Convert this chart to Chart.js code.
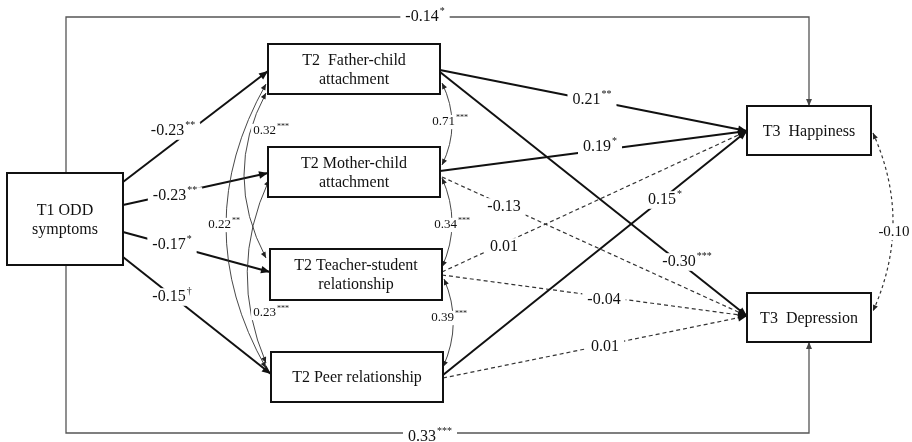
<!DOCTYPE html>
<html><head><meta charset="utf-8">
<script src="https://cdn.jsdelivr.net/npm/chart.js@4"></script>
<style>html,body{margin:0;padding:0;background:#fff}#wrap{width:912px;height:442px;position:relative}</style>
</head><body><div id="wrap"><canvas id="c"></canvas></div>
<script>
// ---------- data ----------
const nodeNames = [["T1 ODD","symptoms"],["T2  Father-child","attachment"],["T2 Mother-child","attachment"],["T2 Teacher-student","relationship"],["T2 Peer relationship"],["T3  Happiness"],["T3  Depression"]];
const pathFrom = [0,0,0,0,0,0,1,2,4,3,1,2,3,4];
const pathTo   = [5,6,1,2,3,4,5,5,5,5,6,6,6,6];
const pathCoef = [-0.14,0.33,-0.23,-0.23,-0.17,-0.15,0.21,0.19,0.15,0.01,-0.30,-0.13,-0.04,0.01];
const pathSig  = ["*","***","**","**","*","\u2020","**","*","*","","***","","",""];
const corrA    = [1,2,3,1,1,2,5];
const corrB    = [2,3,4,3,4,4,6];
const corrCoef = [0.71,0.34,0.39,0.32,0.22,0.23,-0.10];
const corrSig  = ["***","***","***","***","**","***",""];

// ---------- layout (diagram geometry, in axis units) ----------
const boxLayout = [[7,173,123,265],[268,44,440,94],[268,147,440,197],[270,249,442,300],[271,352,443,402],[747,106,871,155],[747,293,871,342]];
const pathLayout = [
  {pts:[[66,173],[66,17],[809,17],[809,106]], lab:[425,17]},
  {pts:[[66,265],[66,433],[809,433],[809,342]], lab:[430,437]},
  {pts:[[123,182],[268,71]], lab:[173,131]},
  {pts:[[123,205],[268,173]], lab:[175,196]},
  {pts:[[123,232],[270,272]], lab:[172,245]},
  {pts:[[123,257],[271,374]], lab:[172,297]},
  {pts:[[440,70],[747,131]], lab:[592,100]},
  {pts:[[440,171],[747,131]], lab:[600,147]},
  {pts:[[443,375],[747,131]], lab:[665,200]},
  {pts:[[442,272],[747,131]], lab:[504,247]},
  {pts:[[440,72],[747,316]], lab:[687,262]},
  {pts:[[442,177],[747,316]], lab:[504,207]},
  {pts:[[442,275],[747,316]], lab:[604,300]},
  {pts:[[443,378],[747,316]], lab:[605,347]}
];
const corrLayout = [
  {p0:[442,83], c:[462,124], p1:[442,165], lab:[450,122]},
  {p0:[442,178],c:[462,223], p1:[442,267], lab:[452,225]},
  {p0:[444,279],c:[463,323], p1:[443,367], lab:[449,318]},
  {p0:[266,93], c:[222,175], p1:[266,258], lab:[271,131]},
  {p0:[266,84], c:[186,226], p1:[266,368], lab:[224,225]},
  {p0:[269,180],c:[227,271], p1:[266,363], lab:[271,313]},
  {p0:[873,133],c:[913,222], p1:[873,311], lab:[894,232]}
];

const FONT = "'Liberation Serif','Times New Roman',serif";
const fmt = v => v.toFixed(2);

function pathStyle(i){
  if (i < 2) return {color:'#555', width:1.3, dash:[]};
  if (pathSig[i] === '') return {color:'#333', width:1.2, dash:[4,3]};
  return {color:'#111', width:2, dash:[]};
}

const datasets = pathLayout.map((p,i) => {
  const s = pathStyle(i);
  return {
    label: nodeNames[pathFrom[i]][0] + ' -> ' + nodeNames[pathTo[i]][0],
    data: p.pts.map(q => ({x:q[0], y:q[1]})),
    showLine: true, borderColor: s.color, borderWidth: s.width, borderDash: s.dash,
    pointRadius: 0, tension: 0, fill: false
  };
});

function arrowHead(ctx, from, to, color, len, hw){
  const dx = to[0]-from[0], dy = to[1]-from[1];
  const L = Math.hypot(dx,dy); const ux = dx/L, uy = dy/L;
  ctx.save(); ctx.setLineDash([]); ctx.fillStyle = color;
  ctx.beginPath();
  ctx.moveTo(to[0], to[1]);
  ctx.lineTo(to[0]-ux*len - uy*hw, to[1]-uy*len + ux*hw);
  ctx.lineTo(to[0]-ux*len + uy*hw, to[1]-uy*len - ux*hw);
  ctx.closePath(); ctx.fill(); ctx.restore();
}

function drawLabel(ctx, base, sup, x, y, size, supSize, padX){
  ctx.save();
  ctx.font = size + 'px ' + FONT;
  const wb = ctx.measureText(base).width;
  ctx.font = supSize + 'px ' + FONT;
  const ws = sup ? ctx.measureText(sup).width + 1 : 0;
  const w = wb + ws;
  const x0 = x - w/2;
  ctx.fillStyle = '#fff';
  ctx.fillRect(x0 - padX, y - size*0.55, w + 2*padX, size*1.1);
  ctx.fillStyle = '#111';
  ctx.textBaseline = 'middle'; ctx.textAlign = 'left';
  ctx.font = size + 'px ' + FONT;
  ctx.fillText(base, x0, y);
  if (sup){
    ctx.font = supSize + 'px ' + FONT;
    ctx.fillText(sup, x0 + wb + 1, y - size*0.33);
  }
  ctx.restore();
}

const diagramPlugin = {
  id: 'diagram',
  afterDatasetsDraw(chart){
    const ctx = chart.ctx, xs = chart.scales.x, ys = chart.scales.y;
    const P = q => [xs.getPixelForValue(q[0]), ys.getPixelForValue(q[1])];
    pathLayout.forEach((p,i) => {
      const n = p.pts.length;
      arrowHead(ctx, P(p.pts[n-2]), P(p.pts[n-1]), i<2 ? '#444' : '#111', i<2 ? 7 : 9, i<2 ? 3 : 3.8);
    });
    corrLayout.forEach((c,i) => {
      const p0 = P(c.p0), cc = P(c.c), p1 = P(c.p1);
      const dashed = corrSig[i] === '';
      ctx.save();
      ctx.strokeStyle = dashed ? '#333' : '#333';
      ctx.lineWidth = dashed ? 1.2 : 0.9;
      ctx.setLineDash(dashed ? [3,3] : []);
      ctx.beginPath(); ctx.moveTo(p0[0],p0[1]); ctx.quadraticCurveTo(cc[0],cc[1],p1[0],p1[1]); ctx.stroke();
      ctx.restore();
      arrowHead(ctx, cc, p0, '#222', 6, 2.6);
      arrowHead(ctx, cc, p1, '#222', 6, 2.6);
    });
    boxLayout.forEach((b,i) => {
      const a = P([b[0],b[1]]), z = P([b[2],b[3]]);
      ctx.save();
      ctx.fillStyle = '#fff'; ctx.fillRect(a[0],a[1],z[0]-a[0],z[1]-a[1]);
      ctx.strokeStyle = '#111'; ctx.lineWidth = 2; ctx.setLineDash([]);
      ctx.strokeRect(a[0],a[1],z[0]-a[0],z[1]-a[1]);
      ctx.fillStyle = '#111'; ctx.font = '16px ' + FONT;
      ctx.textAlign = 'center'; ctx.textBaseline = 'middle';
      const lines = nodeNames[i];
      const cx = (a[0]+z[0])/2, cy = (a[1]+z[1])/2 + 1;
      const lh = 19;
      lines.forEach((t,k) => ctx.fillText(t, cx, cy + (k - (lines.length-1)/2)*lh));
      ctx.restore();
    });
    pathLayout.forEach((p,i) => {
      const q = P(p.lab);
      drawLabel(ctx, fmt(pathCoef[i]), pathSig[i], q[0], q[1], 16, 10, 5);
    });
    corrLayout.forEach((c,i) => {
      const q = P(c.lab);
      drawLabel(ctx, fmt(corrCoef[i]), corrSig[i], q[0], q[1], corrSig[i]==='' ? 15 : 13, 8, 2);
    });
  }
};

new Chart(document.getElementById('c'), {
  type: 'scatter',
  data: { datasets },
  options: {
    responsive: true, maintainAspectRatio: false, animation: false,
    layout: { padding: 0 },
    plugins: { legend: {display:false}, tooltip: {enabled:false}, title:{display:false} },
    scales: {
      x: { type:'linear', min:0, max:912, display:false },
      y: { type:'linear', min:0, max:442, reverse:true, display:false }
    }
  },
  plugins: [diagramPlugin]
});
</script>
</body></html>
